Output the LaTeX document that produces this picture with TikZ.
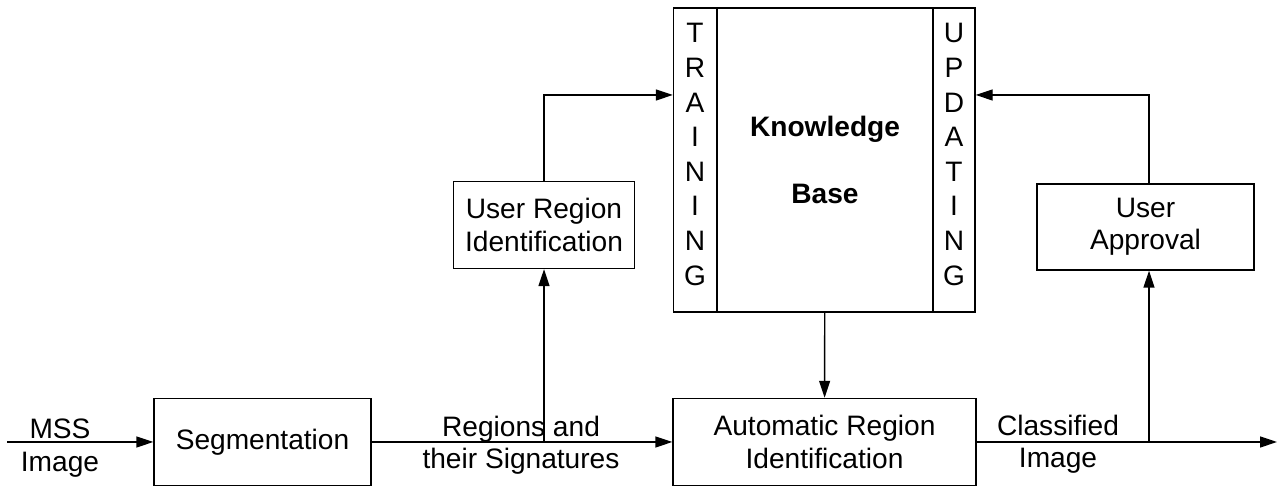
\documentclass[tikz,border=0pt]{standalone}
\usepackage{fontspec}
\setmainfont{Liberation Sans}
\usetikzlibrary{arrows.meta}
\begin{document}
\begin{tikzpicture}[scale=1,
  line width=0.4pt,
  font=\fontsize{8}{9.2}\selectfont,
  block/.style={draw,rectangle,align=center,minimum height=0.87cm},
  strip/.style={draw,rectangle,minimum width=0.43cm,minimum height=3.04cm,inner sep=0pt},
  letters/.style={align=center,inner sep=0pt,yshift=0.055cm,font=\fontsize{8}{9.85}\selectfont},
  linetext/.style={align=center,inner sep=0pt},
  arr/.style={-{Triangle[length=1.7mm,width=1.1mm]}}]
  \useasboundingbox (0,0) rectangle (12.82,4.86);

  \node[block,minimum width=2.17cm] (seg) at (2.625,0.44) {Segmentation};
  \node[block,minimum width=3.03cm] (ari) at (8.245,0.44) {Automatic Region\\Identification};
  \node[block,minimum width=1.74cm] (uri) at (5.44,2.61) {User Region\\Identification};
  \node[block,minimum width=2.17cm,minimum height=0.86cm] (ua) at (11.455,2.59) {User\\Approval};

  % knowledge base with its two strips
  \node[strip,label={[letters]center:{T\\R\\A\\I\\N\\I\\N\\G}}] (train) at (6.95,3.26) {};
  \node[draw,rectangle,minimum width=2.16cm,minimum height=3.04cm,align=center,
    font=\fontsize{8}{9.2}\selectfont\bfseries] (kb) at (8.25,3.26) {Knowledge\\[9.9pt]Base};
  \node[strip,minimum width=0.42cm,label={[letters]center:{U\\P\\D\\A\\T\\I\\N\\G}}] (upd) at (9.54,3.26) {};

  \node[linetext] (mss) at (0.60,0.38) {MSS\\Image};
  \node[linetext] (regs) at (5.21,0.41) {Regions and\\their Signatures};
  \node[linetext] (cls) at (10.58,0.42) {Classified\\Image};

  \coordinate (in) at (0.07,0.44);
  \coordinate (out) at (12.77,0.44);
  \coordinate (br1) at (5.44,0.44);
  \coordinate (br2) at (11.49,0.44);
  \coordinate (t1) at (5.44,3.91);
  \coordinate (t2) at (11.49,3.91);

  \draw[arr] (in) -- (seg);
  \draw[arr] (seg) -- (ari);
  \draw[arr] (ari) -- (out);
  \draw[arr] (br1) -- (uri);
  \draw[arr] (uri) -- (t1) -- (t1 -| train.west);
  \draw[arr] (kb) -- (ari);
  \draw[arr] (br2) -- (br2 |- ua.south);
  \draw[arr] (ua.north -| br2) -- (t2) -- (t2 -| upd.east);
\end{tikzpicture}
\end{document}
